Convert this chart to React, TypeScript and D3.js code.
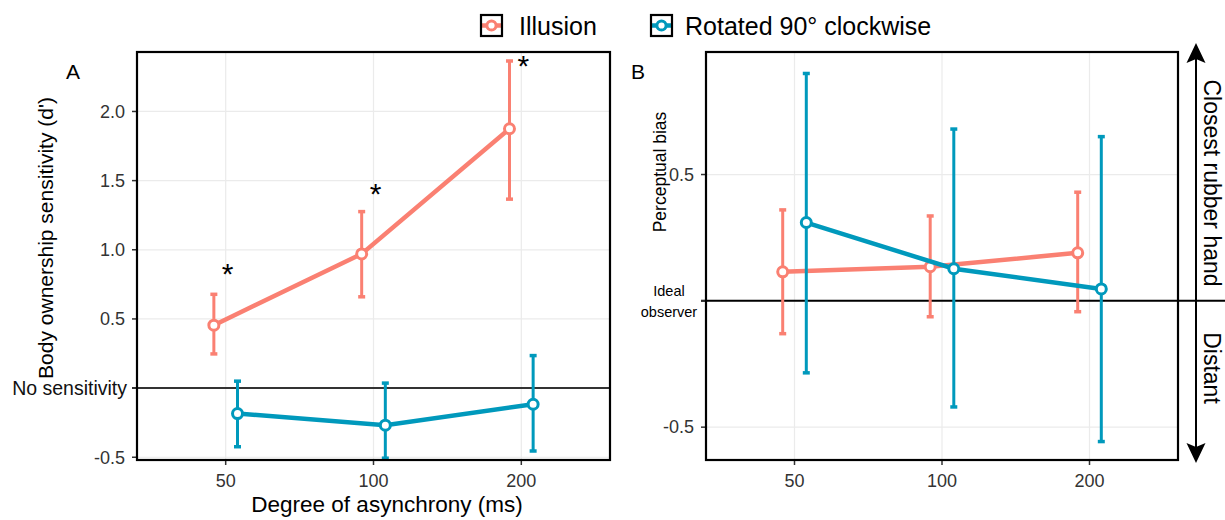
import React from "react";
import * as d3 from "d3";

// asynchrony levels (discrete x)
const delays = ["50", "100", "200"];

// panel A: body ownership sensitivity (d')
const illusionA = [0.455, 0.97, 1.875];
const illusionALo = [0.247, 0.66, 1.366];
const illusionAHi = [0.678, 1.276, 2.365];
const rotatedA = [-0.184, -0.268, -0.117];
const rotatedALo = [-0.424, -0.507, -0.455];
const rotatedAHi = [0.05, 0.036, 0.235];
const starsA = [0.854, 1.43, 2.36];
const ticksA = [-0.5, 0, 0.5, 1.0, 1.5, 2.0];

// panel B: perceptual bias
const illusionB = [0.115, 0.135, 0.19];
const illusionBLo = [-0.13, -0.063, -0.043];
const illusionBHi = [0.36, 0.336, 0.43];
const rotatedB = [0.31, 0.127, 0.047];
const rotatedBLo = [-0.285, -0.42, -0.557];
const rotatedBHi = [0.9, 0.68, 0.65];
const ticksB = [-0.5, 0, 0.5];

const SALMON = "#fa8072";
const TEAL = "#0099bc";
const FONT = "'Liberation Sans', Arial, Helvetica, sans-serif";
const AXIS = "#333333";

type Series = { vals: number[]; lo: number[]; hi: number[]; color: string; dx: number };

const Panel = ({
  x0,
  x1,
  y0,
  y1,
  yDomain,
  ticks,
  series,
  zeroLabel,
  zeroEnd,
  zeroColor,
}: {
  x0: number;
  x1: number;
  y0: number;
  y1: number;
  yDomain: [number, number];
  ticks: number[];
  series: Series[];
  zeroLabel: boolean;
  zeroEnd: number;
  zeroColor: string;
}) => {
  const x = d3.scaleLinear().domain([0.4, 3.6]).range([x0, x1]);
  const y = d3.scaleLinear().domain(yDomain).range([y1, y0]);

  return (
    <g>
      {/* grid */}
      {ticks.map((t) => (
        <line key={"gy" + t} x1={x0} x2={x1} y1={y(t)} y2={y(t)} stroke="#ebebeb" strokeWidth={1.2} />
      ))}
      {delays.map((d, i) => (
        <line key={"gx" + d} x1={x(i + 1)} x2={x(i + 1)} y1={y0} y2={y1} stroke="#ebebeb" strokeWidth={1.2} />
      ))}
      {/* zero reference */}
      <line x1={x0 - 5} x2={zeroEnd} y1={y(0)} y2={y(0)} stroke={zeroColor} strokeWidth={2} />
      {/* ticks */}
      {ticks.map((t) => (
        <g key={"ty" + t}>
          <line x1={x0 - 5} x2={x0} y1={y(t)} y2={y(t)} stroke={AXIS} strokeWidth={1.5} />
          {t !== 0 && (
            <text x={x0 - 12} y={y(t)} dy="0.35em" textAnchor="end" fontSize={18} fill={AXIS} fontFamily={FONT}>
              {t.toFixed(1)}
            </text>
          )}
          {t === 0 && zeroLabel && (
            <text x={x0 - 10} y={y(t)} dy="0.35em" textAnchor="end" fontSize={19.5} fill="#111" fontFamily={FONT}>
              No sensitivity
            </text>
          )}
        </g>
      ))}
      {delays.map((d, i) => (
        <g key={"tx" + d}>
          <line x1={x(i + 1)} x2={x(i + 1)} y1={y1} y2={y1 + 5} stroke={AXIS} strokeWidth={1.5} />
          <text x={x(i + 1)} y={y1 + 27} textAnchor="middle" fontSize={18} fill={AXIS} fontFamily={FONT}>
            {d}
          </text>
        </g>
      ))}
      {/* series */}
      {series.map((s, k) => {
        const path = d3
          .line<number>()
          .x((_, i) => x(i + 1 + s.dx))
          .y((d) => y(d));
        return (
          <g key={"s" + k}>
            {s.vals.map((v, i) => {
              const cx = x(i + 1 + s.dx);
              return (
                <g key={i}>
                  <line x1={cx} x2={cx} y1={y(s.lo[i])} y2={y(s.hi[i])} stroke={s.color} strokeWidth={3} />
                  <line x1={cx - 3.5} x2={cx + 3.5} y1={y(s.lo[i])} y2={y(s.lo[i])} stroke={s.color} strokeWidth={3.5} />
                  <line x1={cx - 3.5} x2={cx + 3.5} y1={y(s.hi[i])} y2={y(s.hi[i])} stroke={s.color} strokeWidth={3.5} />
                </g>
              );
            })}
            <path d={path(s.vals) || ""} fill="none" stroke={s.color} strokeWidth={4.5} />
            {s.vals.map((v, i) => (
              <circle key={"c" + i} cx={x(i + 1 + s.dx)} cy={y(v)} r={5} fill="white" stroke={s.color} strokeWidth={3} />
            ))}
          </g>
        );
      })}
      {/* frame */}
      <rect x={x0} y={y0} width={x1 - x0} height={y1 - y0} fill="none" stroke="black" strokeWidth={2.2} />
    </g>
  );
};

const LegendKey = ({ x, y, color }: { x: number; y: number; color: string }) => (
  <g>
    <line x1={x + 1} x2={x + 20} y1={y + 10.5} y2={y + 10.5} stroke={color} strokeWidth={4.5} />
    <circle cx={x + 10.5} cy={y + 10.5} r={4.6} fill="white" stroke={color} strokeWidth={3} />
    <rect x={x} y={y} width={21} height={21} fill="none" stroke="black" strokeWidth={2.2} />
  </g>
);

const App = () => {
  const aX0 = 137,
    aX1 = 610,
    bX0 = 706,
    bX1 = 1178,
    top = 52,
    bottom = 460;
  const xA = d3.scaleLinear().domain([0.4, 3.6]).range([aX0, aX1]);
  const yA = d3.scaleLinear().domain([-0.52, 2.43]).range([bottom, top]);
  const arrowX = 1196;

  return (
    <svg width={1225} height={520} style={{ position: "absolute", left: 0, top: 0, background: "white" }}>
      <Panel
        x0={aX0}
        x1={aX1}
        y0={top}
        y1={bottom}
        yDomain={[-0.52, 2.43]}
        ticks={ticksA}
        zeroLabel={true}
        zeroEnd={aX1}
        zeroColor="#333"
        series={[
          { vals: illusionA, lo: illusionALo, hi: illusionAHi, color: SALMON, dx: -0.08 },
          { vals: rotatedA, lo: rotatedALo, hi: rotatedAHi, color: TEAL, dx: 0.08 },
        ]}
      />
      {starsA.map((v, i) => (
        <text key={"st" + i} x={xA(i + 1) + 2} y={yA(v) + 14} textAnchor="middle" fontSize={30} fontFamily={FONT} fill="black">
          *
        </text>
      ))}
      <Panel
        x0={bX0}
        x1={bX1}
        y0={top}
        y1={bottom}
        yDomain={[-0.63, 0.985]}
        ticks={ticksB}
        zeroLabel={false}
        zeroEnd={1225}
        zeroColor="black"
        series={[
          { vals: illusionB, lo: illusionBLo, hi: illusionBHi, color: SALMON, dx: -0.08 },
          { vals: rotatedB, lo: rotatedBLo, hi: rotatedBHi, color: TEAL, dx: 0.08 },
        ]}
      />
      {/* panel letters */}
      <text x={73} y={79} fontSize={21} fontFamily={FONT} textAnchor="middle">A</text>
      <text x={638} y={79} fontSize={21} fontFamily={FONT} textAnchor="middle">B</text>
      {/* axis titles */}
      <text transform="translate(53,238) rotate(-90)" textAnchor="middle" fontSize={21} fontFamily={FONT}>
        Body ownership sensitivity (d')
      </text>
      <text transform="translate(666,172) rotate(-90)" textAnchor="middle" fontSize={17.5} fontFamily={FONT}>
        Perceptual bias
      </text>
      <text x={669} y={296} textAnchor="middle" fontSize={14.5} fontFamily={FONT}>Ideal</text>
      <text x={669} y={317} textAnchor="middle" fontSize={14.5} fontFamily={FONT}>observer</text>
      <text x={387} y={512} textAnchor="middle" fontSize={22.5} fontFamily={FONT}>Degree of asynchrony (ms)</text>
      {/* legend */}
      <LegendKey x={481} y={15} color={SALMON} />
      <text x={519} y={26} dy="0.36em" fontSize={25} fontFamily={FONT}>Illusion</text>
      <LegendKey x={651} y={15} color={TEAL} />
      <text x={685} y={26} dy="0.36em" fontSize={25} fontFamily={FONT}>Rotated 90° clockwise</text>
      {/* direction arrows */}
      <line x1={arrowX} x2={arrowX} y1={58} y2={448} stroke="black" strokeWidth={2} />
      <path d={`M${arrowX},43 L${arrowX + 9.5},63 L${arrowX},59 L${arrowX - 9.5},63 Z`} fill="black" />
      <path d={`M${arrowX},463 L${arrowX + 9.5},443 L${arrowX},447 L${arrowX - 9.5},443 Z`} fill="black" />
      <text transform="translate(1204,183) rotate(90)" textAnchor="middle" fontSize={23} fontFamily={FONT}>
        Closest rubber hand
      </text>
      <text transform="translate(1204,368) rotate(90)" textAnchor="middle" fontSize={23} fontFamily={FONT}>
        Distant
      </text>
    </svg>
  );
};

export default App;
